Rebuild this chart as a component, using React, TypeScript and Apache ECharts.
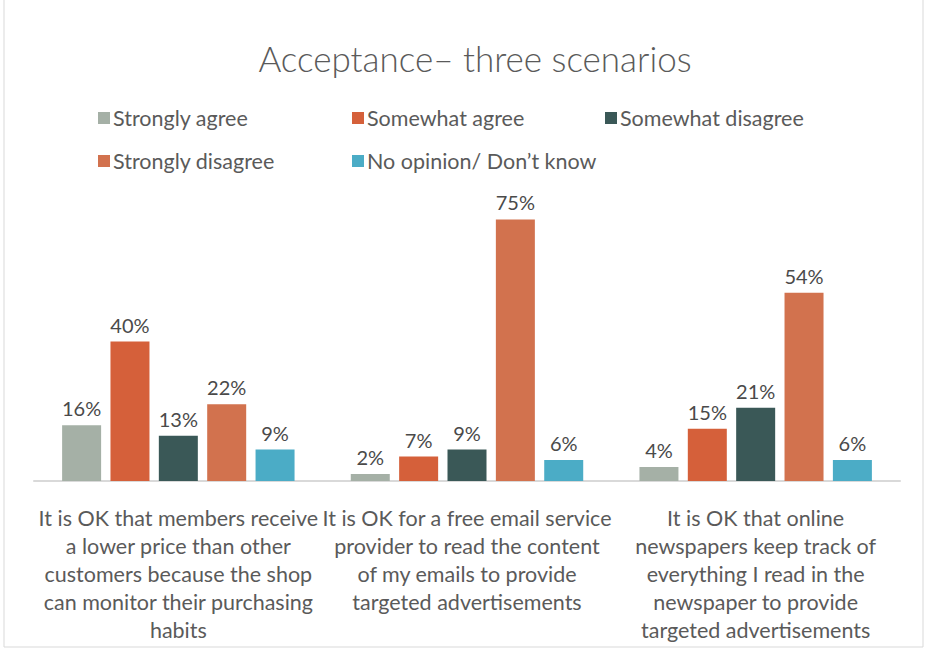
import React, { useEffect, useRef } from "react";
import * as echarts from "echarts";

const categories = [
  "It is OK that members receive\na lower price than other\ncustomers because the shop\ncan monitor their purchasing\nhabits",
  "It is OK for a free email service\nprovider to read the content\nof my emails to provide\ntargeted advertisements",
  "It is OK that online\nnewspapers keep track of\neverything I read in the\nnewspaper to provide\ntargeted advertisements",
];
const seriesNames = [
  "Strongly agree",
  "Somewhat agree",
  "Somewhat disagree",
  "Strongly disagree",
  "No opinion/ Don\u2019t know",
];
const stronglyAgree = [16, 2, 4];
const somewhatAgree = [40, 7, 15];
const somewhatDisagree = [13, 9, 21];
const stronglyDisagree = [22, 75, 54];
const noOpinion = [9, 6, 6];
const colors = ["#A5B0A6", "#D5603A", "#3A5857", "#D2724E", "#4BACC6"];
const title = "Acceptance\u2013 three scenarios";

const FONT = "Lato";
const TEXT = "#5A5A5A";

export default function App() {
  const ref = useRef<HTMLDivElement>(null);
  useEffect(() => {
    if (!ref.current) return;
    const chart = echarts.init(ref.current, undefined, { renderer: "svg" });
    const values = [stronglyAgree, somewhatAgree, somewhatDisagree, stronglyDisagree, noOpinion];
    const legendPos = [
      { left: 93, top: 102 },
      { left: 347, top: 102 },
      { left: 600, top: 102 },
      { left: 93, top: 145 },
      { left: 347, top: 145 },
    ];
    chart.setOption({
      animation: false,
      backgroundColor: "#ffffff",
      title: {
        text: title,
        left: 470,
        textAlign: "center",
        top: 35,
        textStyle: { fontFamily: FONT, fontSize: 35, fontWeight: 300, color: TEXT },
      },
      legend: seriesNames.map((n, i) => ({
        data: [n],
        left: legendPos[i].left,
        top: legendPos[i].top,
        icon: "rect",
        itemWidth: 12,
        itemHeight: 12,
        itemGap: 0,
        textStyle: { fontFamily: FONT, fontSize: 21.5, color: TEXT, padding: [0, 0, 0, -2] },
        selectedMode: false,
      })),
      grid: { left: 34, right: 27, top: 202, bottom: 170, containLabel: false },
      xAxis: {
        type: "category",
        data: categories,
        axisLine: { lineStyle: { color: "#D9D9D9", width: 2 } },
        axisTick: { show: false },
        axisLabel: {
          interval: 0,
          margin: 23,
          fontFamily: FONT,
          fontSize: 21.5,
          lineHeight: 28,
          color: TEXT,
          align: "center",
          verticalAlign: "top",
          hideOverlap: false,
        },
      },
      yAxis: {
        type: "value",
        min: 0,
        max: 80,
        show: false,
        splitLine: { show: false },
      },
      series: seriesNames.map((n, i) => ({
        name: n,
        type: "bar",
        data: values[i],
        barWidth: 39,
        barGap: "24%",
        itemStyle: { color: colors[i] },
        label: {
          show: true,
          position: "top",
          distance: 7,
          formatter: "{c}%",
          fontFamily: FONT,
          fontSize: 20,
          color: "#4A4A4A",
        },
      })),
      graphic: [
        {
          type: "rect",
          shape: { x: 4, y: -5, width: 919, height: 652 },
          style: { fill: "none", stroke: "#D9D9D9", lineWidth: 1 },
          silent: true,
        },
      ],
    });
    return () => chart.dispose();
  }, []);
  return (
    <div
      ref={ref}
      style={{ position: "fixed", left: 0, top: 0, width: 927, height: 651 }}
    />
  );
}
